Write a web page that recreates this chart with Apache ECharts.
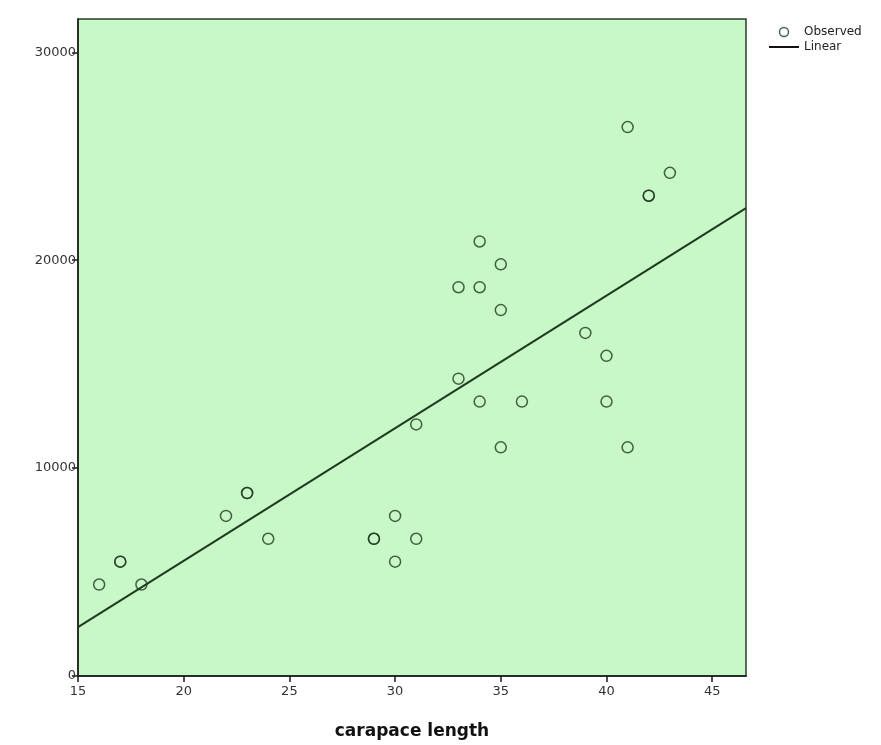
<!DOCTYPE html>
<html>
<head>
<meta charset="utf-8">
<script src="https://cdn.jsdelivr.net/npm/echarts@6/dist/echarts.min.js"></script>
<style>
  html, body { margin: 0; padding: 0; background: #fff; }
  #chart { width: 881px; height: 745px; }
</style>
</head>
<body>
<div id="chart"></div>
<script>
// observed points (carapace length vs value), duplicates kept
const carapace = [16, 17, 17, 18, 22, 23, 23, 24, 29, 29, 30, 30, 31, 31, 33, 33, 34, 34, 34, 35, 35, 35, 36, 39, 40, 40, 41, 41, 42, 42, 43];
const observed = [4400, 5500, 5500, 4400, 7700, 8800, 8800, 6600, 6600, 6600, 7700, 5500, 6600, 12100, 18700, 14300, 20900, 18700, 13200, 19800, 17600, 11000, 13200, 16500, 15400, 13200, 26400, 11000, 23100, 23100, 24200];

// fitted linear line, read at the two plot edges
const lineX = [15, 46.6];
const lineY = [2350, 22500];

const xTicks = [15, 20, 25, 30, 35, 40, 45];
const yTicks = [0, 10000, 20000, 30000];

const chart = echarts.init(document.getElementById('chart'));
const ink = '#1f3a1f';
const labelFont = { color: '#333', fontSize: 13, fontFamily: 'DejaVu Sans' };

chart.setOption({
  animation: false,
  backgroundColor: '#fff',
  grid: {
    left: 78, right: 135, top: 19, bottom: 69,
    show: true,
    backgroundColor: '#c8f7c8',
    borderColor: '#2b3d2b',
    borderWidth: 1.5
  },
  legend: {
    orient: 'vertical',
    left: 764,
    top: 21,
    itemGap: 3,
    itemWidth: 30,
    itemHeight: 9,
    textStyle: { color: '#222', fontSize: 12, fontFamily: 'DejaVu Sans' },
    data: [
      { name: 'Observed', icon: 'circle', itemStyle: { color: 'transparent', borderColor: ink, borderWidth: 1.5 } },
      { name: 'Linear', icon: 'path://M0,4 L30,4 L30,6 L0,6 Z', itemStyle: { color: '#111' } }
    ]
  },
  xAxis: {
    type: 'value',
    min: 15,
    max: 46.6,
    interval: 5,
    name: 'carapace length',
    nameLocation: 'middle',
    nameGap: 47,
    nameTextStyle: { color: '#111', fontSize: 17, fontWeight: 'bold', fontFamily: 'DejaVu Sans' },
    splitLine: { show: false },
    axisLine: { lineStyle: { color: '#1a1a1a', width: 1.5 } },
    axisTick: { show: true, length: 6, customValues: xTicks, lineStyle: { color: '#1a1a1a', width: 1.5 } },
    axisLabel: Object.assign({ customValues: xTicks, margin: 9, formatter: v => String(v) }, labelFont)
  },
  yAxis: {
    type: 'value',
    min: 0,
    max: 31600,
    interval: 10000,
    splitLine: { show: false },
    axisLine: { show: true, lineStyle: { color: '#1a1a1a', width: 1.5 } },
    axisTick: { show: true, length: 6, customValues: yTicks, lineStyle: { color: '#1a1a1a', width: 1.5 } },
    axisLabel: Object.assign({ customValues: yTicks, margin: 2, formatter: v => String(v) }, labelFont)
  },
  series: [
    {
      name: 'Observed',
      type: 'scatter',
      symbol: 'circle',
      symbolSize: 11,
      itemStyle: { color: 'transparent', borderColor: ink, borderWidth: 1.5 },
      data: carapace.map((x, i) => [x, observed[i]]),
      z: 3
    },
    {
      name: 'Linear',
      type: 'line',
      symbol: 'none',
      lineStyle: { color: ink, width: 2 },
      itemStyle: { color: ink },
      data: lineX.map((x, i) => [x, lineY[i]]),
      z: 2
    }
  ]
});
</script>
</body>
</html>
